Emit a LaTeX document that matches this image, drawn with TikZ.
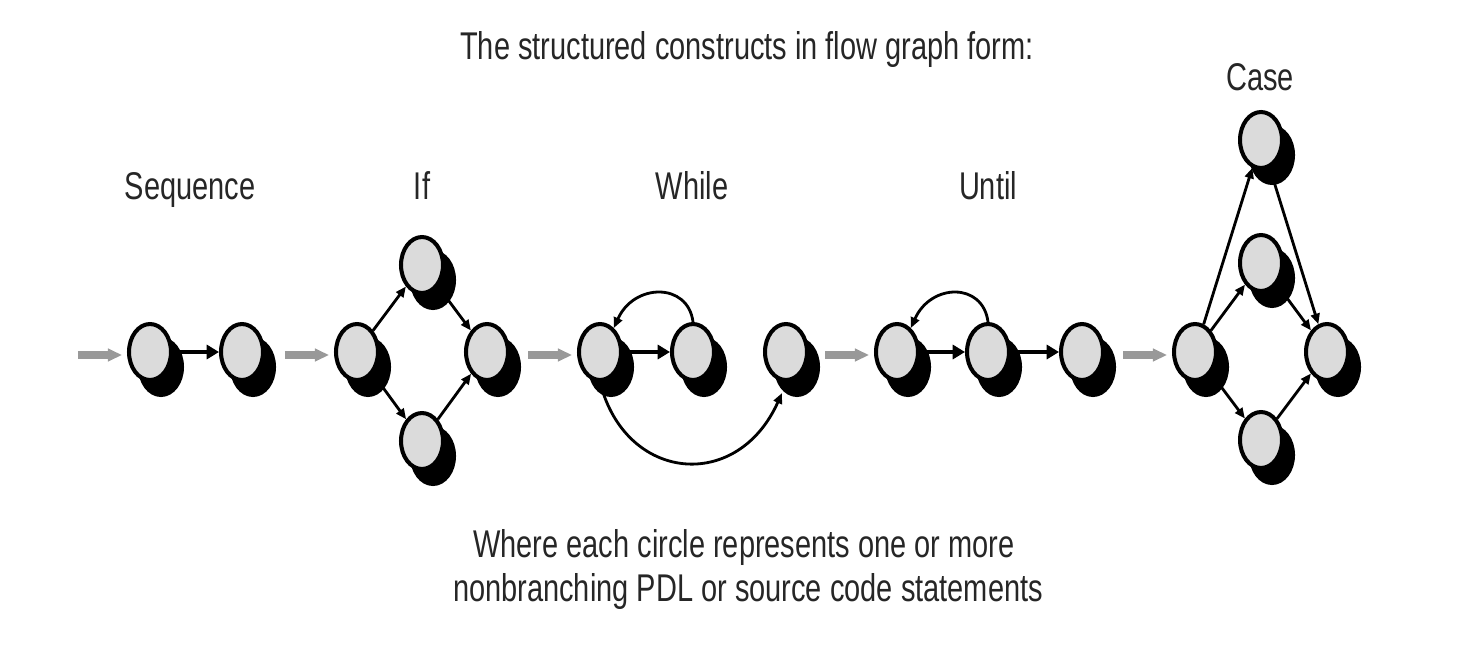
\documentclass[tikz,border=0pt]{standalone}
\usepackage{fontspec}
\setmainfont{Liberation Sans}[FakeStretch=0.75]
\usetikzlibrary{arrows.meta,shapes.geometric,shadows}
\tikzset{
  stmt/.style={ellipse,draw,line width=2.3pt,fill=black!14,
    minimum width=0.84cm,minimum height=1.12cm,inner sep=0pt,
    drop shadow={shadow xshift=0.22cm,shadow yshift=-0.3cm,
      fill=black,draw=black,opacity=1}},
  flow/.style={-{Triangle[length=6pt,width=5pt]},line width=1.6pt},
  bigflow/.style={-{Triangle[length=7pt,width=8pt]},line width=2.8pt},
  feed/.style={-{Triangle[length=8pt,width=7pt]},line width=4pt,black!40},
  lbl/.style={anchor=base,text=black!85,font=\fontsize{22}{25}\selectfont}
}

\begin{document}
\begin{tikzpicture}[x=0.02cm,y=0.02cm]
  \useasboundingbox (0,0) rectangle (1470,654);

  % headings
  \node[lbl] (title) at (747,595) {The structured constructs in flow graph form:};
  \node[lbl] (seqlbl) at (190,455) {Sequence};
  \node[lbl] (iflbl) at (422,455) {If};
  \node[lbl] (whilelbl) at (692,455) {While};
  \node[lbl] (untillbl) at (988,455) {Until};
  \node[lbl] (caselbl) at (1260,564) {Case};

  % sequence
  \node[stmt] (s1) at (150,302) {};
  \node[stmt] (s2) at (242,302) {};

  % if
  \node[stmt] (i1) at (357,302) {};
  \node[stmt] (i2) at (422,389) {};
  \node[stmt] (i3) at (487,302) {};
  \node[stmt] (i4) at (422,213) {};

  % while
  \node[stmt] (w1) at (600,302) {};
  \node[stmt] (w2) at (693,302) {};
  \node[stmt] (w3) at (786,302) {};

  % until
  \node[stmt] (u1) at (897,302) {};
  \node[stmt] (u2) at (988,302) {};
  \node[stmt] (u3) at (1082,302) {};

  % case
  \node[stmt] (c1) at (1195,302) {};
  \node[stmt] (c2) at (1261,514) {};
  \node[stmt] (c3) at (1261,391) {};
  \node[stmt] (c4) at (1327,302) {};
  \node[stmt] (c5) at (1261,214) {};

  % entry arrows
  \foreach \n in {s1,i1,w1,u1,c1}
    \draw[feed] ([xshift=-0.98cm,yshift=-0.06cm]\n.west) -- ([xshift=-0.1cm,yshift=-0.06cm]\n.west);

  % flow
  \draw[bigflow] (s1) -- (s2);
  \draw[flow] (i1) -- (i2);
  \draw[flow] (i2) -- (i3);
  \draw[flow] (i1) -- (i4);
  \draw[flow] (i4) -- (i3);
  \draw[bigflow] (w1) -- (w2);
  \draw[flow] (w2.north) .. controls +(-5,40) and +(20,45) .. (w1.60);
  \draw[flow] (w1.south) .. controls +(25,-100) and +(-45,-100) .. ([xshift=-0.08cm,yshift=-0.22cm]w3.south);
  \draw[bigflow] (u1) -- (u2);
  \draw[bigflow] (u2) -- (u3);
  \draw[flow] (u2.north) .. controls +(-5,40) and +(20,45) .. (u1.60);
  \draw[flow] (c1) -- (c2);
  \draw[flow] (c2) -- (c4);
  \draw[flow] (c1) -- (c3);
  \draw[flow] (c3) -- (c4);
  \draw[flow] (c1) -- (c5);
  \draw[flow] (c5) -- (c4);

  % note
  \node[lbl] (note1) at (744,97) {Where each circle represents one or more};
  \node[lbl] (note2) at (748,53) {nonbranching PDL or source code statements};
\end{tikzpicture}
\end{document}
